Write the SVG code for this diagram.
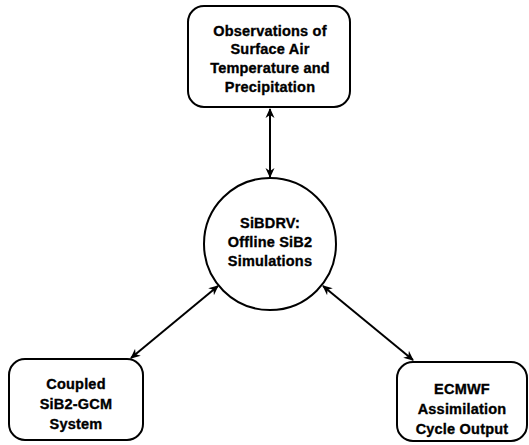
<svg xmlns="http://www.w3.org/2000/svg" width="529" height="445" viewBox="0 0 529 445">
<defs>
<marker id="ah" viewBox="0 0 10 10" refX="9" refY="5" markerWidth="10" markerHeight="10" markerUnits="userSpaceOnUse" orient="auto-start-reverse">
<path d="M0,0.5 L10,5 L0,9.5 L3,5 Z" fill="#000"/>
</marker>
<style>
.box{fill:#fff;stroke:#000;stroke-width:2}
.t{font-family:"Liberation Sans",Arial,sans-serif;font-weight:bold;font-size:14.5px;letter-spacing:0.2px;text-anchor:middle;fill:#000;stroke:#000;stroke-width:0.35}
.c{stroke:#000;stroke-width:2;fill:none;marker-start:url(#ah);marker-end:url(#ah)}
</style>
</defs>
<rect width="529" height="445" fill="#fff"/>
<g id="connectors">
<line class="c" x1="270" y1="109" x2="270" y2="177"/>
<line class="c" x1="218" y1="286" x2="131" y2="358"/>
<line class="c" x1="323" y1="286" x2="413" y2="360"/>
</g>
<g id="observations">
<rect class="box" x="188" y="6" width="162" height="101" rx="16"/>
<text class="t" x="270" y="36">Observations of</text>
<text class="t" x="270" y="54">Surface Air</text>
<text class="t" x="270" y="73">Temperature and</text>
<text class="t" x="270" y="92">Precipitation</text>
</g>
<g id="sibdrv">
<circle class="box" cx="270" cy="244" r="66"/>
<text class="t" x="270" y="228">SiBDRV:</text>
<text class="t" x="270" y="247">Offline SiB2</text>
<text class="t" x="270" y="266">Simulations</text>
</g>
<g id="coupled">
<rect class="box" x="9" y="359" width="134" height="81" rx="16"/>
<text class="t" x="76" y="389">Coupled</text>
<text class="t" x="76" y="409">SiB2-GCM</text>
<text class="t" x="76" y="429">System</text>
</g>
<g id="ecmwf">
<rect class="box" x="397" y="362" width="130" height="79" rx="16"/>
<text class="t" x="462" y="394">ECMWF</text>
<text class="t" x="462" y="414">Assimilation</text>
<text class="t" x="462" y="434">Cycle Output</text>
</g>
</svg>
